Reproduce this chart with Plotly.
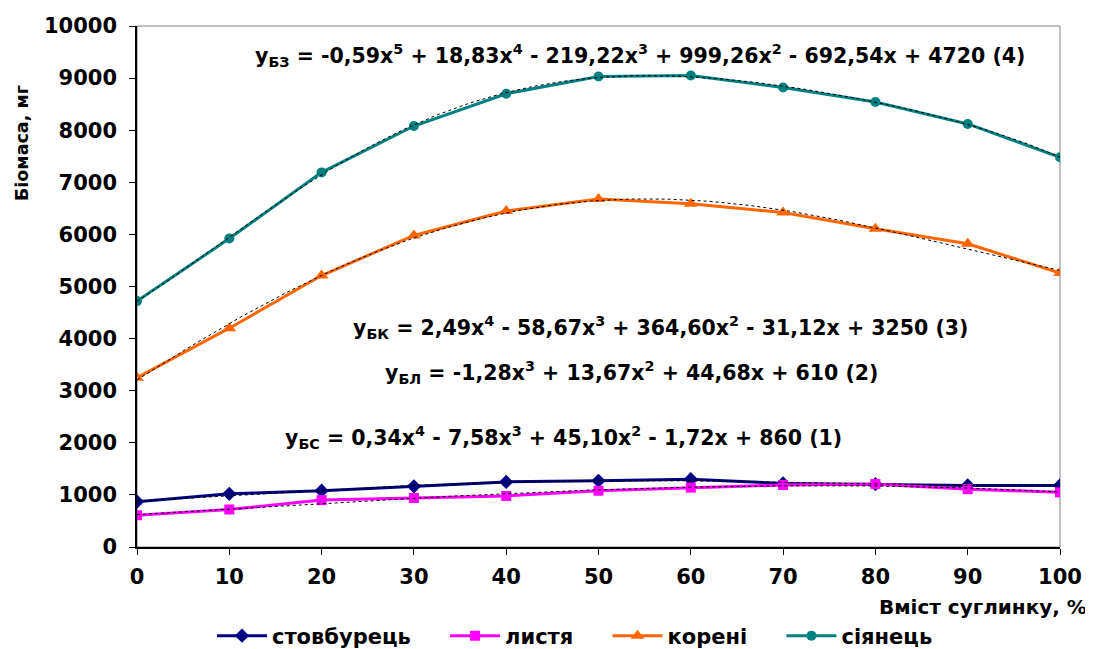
import numpy as np
import plotly.graph_objects as go

x_vals = [0, 10, 20, 30, 40, 50, 60, 70, 80, 90, 100]
stem = [870, 1020, 1080, 1165, 1250, 1270, 1300, 1220, 1205, 1180, 1180]
leaves = [610, 720, 900, 940, 980, 1080, 1140, 1190, 1210, 1110, 1050]
roots = [3250, 4200, 5210, 5980, 6450, 6680, 6590, 6420, 6110, 5820, 5260]
seedling = [4720, 5920, 7190, 8080, 8700, 9030, 9050, 8820, 8540, 8120, 7480]
y_ticks = [0, 1000, 2000, 3000, 4000, 5000, 6000, 7000, 8000, 9000, 10000]
y_tick_text = [str(v) for v in y_ticks]
series_names = ["стовбурець", "листя", "корені", "сіянець"]

WIDE = "DejaVu Sans"

styles = [
    ("#000080", "diamond", 11, 4),
    ("#FF00FF", "square", 10, 3),
    ("#FF6600", "triangle-up", 12, 4),
    ("#008080", "circle", 10, 5),
]
data = [stem, leaves, roots, seedling]

fig = go.Figure()
GAP = "\u00a0" * 4
for i, (name, ys, (color, sym, size, deg)) in enumerate(zip(series_names, data, styles)):
    label = name + (GAP if i < len(series_names) - 1 else "")
    fig.add_trace(go.Scatter(
        x=x_vals, y=ys, name=label, mode="lines+markers",
        line=dict(color=color, width=3),
        marker=dict(symbol=sym, size=size, color=color),
    ))

# polynomial trendlines (Excel-style, x = point index 1..n)
idx = np.arange(1, len(x_vals) + 1)
fine = np.linspace(1, len(x_vals), 200)
for ys, (color, sym, size, deg) in zip(data, styles):
    coefs = np.polyfit(idx, ys, deg)
    fig.add_trace(go.Scatter(
        x=(fine - 1) * 10, y=np.polyval(coefs, fine), mode="lines",
        line=dict(color="black", width=1, dash="dot"),
        showlegend=False, hoverinfo="skip",
    ))

# page body has an 8px margin: figure is drawn 8px right/down
OFF = 8
W, H = 1093 - OFF, 649 - OFF
# plot area in screenshot pixels
L, R, T, B = 137, 1060, 26, 547


def px_to_paper(px, py):
    return (px - L) / (R - L), (B - py) / (B - T)


eq_font = dict(family=WIDE, size=20.5, color="black", weight="bold")
equations = [
    (640, 55, "y<sub>БЗ</sub> = -0,59x<sup>5</sup> + 18,83x<sup>4</sup> - 219,22x<sup>3</sup> + 999,26x<sup>2</sup> - 692,54x + 4720 (4)"),
    (660, 327, "y<sub>БК</sub> = 2,49x<sup>4</sup> - 58,67x<sup>3</sup> + 364,60x<sup>2</sup> - 31,12x + 3250 (3)"),
    (631, 372, "y<sub>БЛ</sub> = -1,28x<sup>3</sup> + 13,67x<sup>2</sup> + 44,68x + 610 (2)"),
    (563, 437, "y<sub>БС</sub> = 0,34x<sup>4</sup> - 7,58x<sup>3</sup> + 45,10x<sup>2</sup> - 1,72x + 860 (1)"),
]
ann = []
for px, py, txt in equations:
    ax, ay = px_to_paper(px, py)
    ann.append(dict(x=ax, y=ay, xref="paper", yref="paper", xanchor="center",
                    yanchor="middle", showarrow=False, text=txt, font=eq_font))

ax, ay = px_to_paper(1089, 607)
ann.append(dict(x=ax, y=ay, xref="paper", yref="paper", xanchor="right", yanchor="middle",
                showarrow=False, text="Вміст суглинку, %",
                font=dict(family=WIDE, size=20, color="black", weight="bold")))
ax, ay = px_to_paper(22, 143)
ann.append(dict(x=ax, y=ay, xref="paper", yref="paper", xanchor="center", yanchor="middle",
                showarrow=False, textangle=-90, text="Біомаса, мг",
                font=dict(family=WIDE, size=17.5, color="black", weight="bold")))

fig.update_layout(
    width=W, height=H,
    margin=dict(l=L - OFF, r=W - (R - OFF), t=T - OFF, b=H - (B - OFF), autoexpand=False),
    plot_bgcolor="white", paper_bgcolor="white",
    font=dict(family=WIDE, color="black"),
    showlegend=True,
    legend=dict(orientation="h", xref="container", yref="container",
                x=(575 - OFF) / W, xanchor="center",
                y=1 - (636 - OFF) / H, yanchor="middle",
                font=dict(family=WIDE, size=21, color="black", weight="bold"),
                itemwidth=50, tracegroupgap=0, bgcolor="rgba(0,0,0,0)"),
    shapes=[dict(type="rect", xref="paper", yref="paper", x0=0, y0=0, x1=1, y1=1,
                 line=dict(color="#808080", width=1), layer="below")],
    annotations=ann,
)

fig.update_xaxes(range=[0, 100], tickvals=x_vals, ticktext=[str(v) for v in x_vals],
                 ticks="outside", ticklen=6, automargin=False, ticklabelstandoff=4,
                 tickcolor="black", showline=True, linecolor="black", linewidth=1.5,
                 showgrid=False, zeroline=False,
                 tickfont=dict(family=WIDE, size=21, color="black", weight="bold"))
fig.update_yaxes(range=[0, 10000], tickvals=y_ticks, ticktext=y_tick_text,
                 ticks="outside", ticklen=6, automargin=False, ticklabelstandoff=8,
                 tickcolor="black", showline=True, linecolor="black", linewidth=1.5,
                 showgrid=False, zeroline=False,
                 tickfont=dict(family=WIDE, size=21, color="black", weight="bold"))

fig.write_html("out.html")
